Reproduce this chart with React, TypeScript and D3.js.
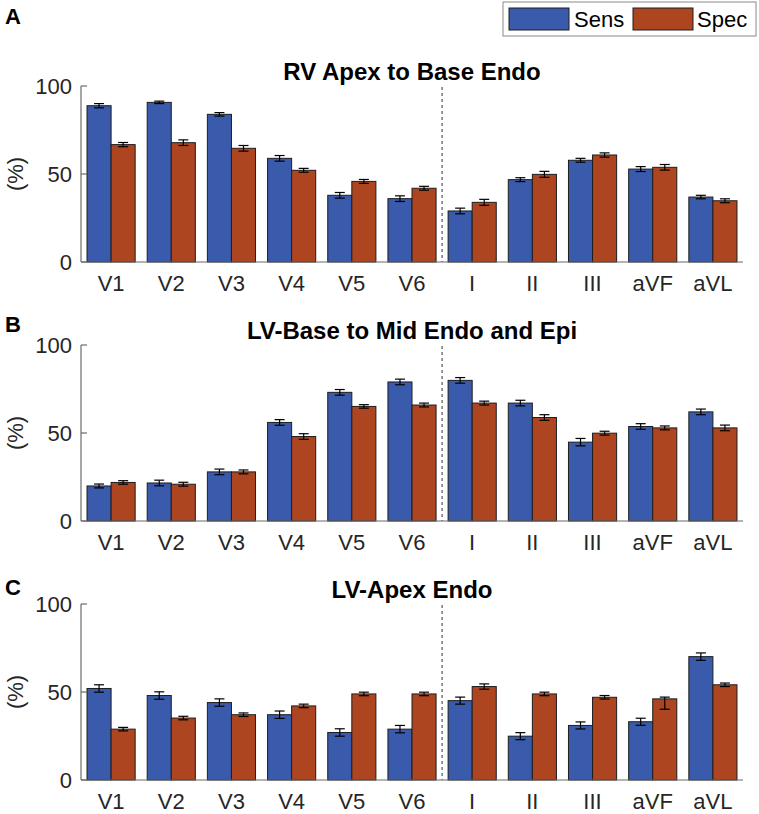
import React from "react";
import * as d3 from "d3";

const leads = ["V1", "V2", "V3", "V4", "V5", "V6", "I", "II", "III", "aVF", "aVL"];
const seriesNames = ["Sens", "Spec"];
const yTickValues = [0, 50, 100];

const titles = ["RV Apex to Base Endo", "LV-Base to Mid Endo and Epi", "LV-Apex Endo"];
const panelLetters = ["A", "B", "C"];

// panel A
const sensA = [88.8, 90.7, 83.9, 58.9, 37.9, 36.0, 29.0, 46.8, 57.8, 52.8, 36.9];
const specA = [66.7, 67.8, 64.6, 52.1, 45.8, 41.9, 33.9, 49.8, 60.8, 53.8, 34.8];
const sensErrA = [1.2, 0.7, 1.0, 1.6, 1.6, 1.6, 1.6, 1.1, 1.1, 1.4, 1.0];
const specErrA = [1.2, 1.6, 1.6, 1.1, 1.1, 1.1, 1.7, 1.7, 1.2, 1.6, 1.1];

// panel B
const sensB = [19.9, 21.6, 27.9, 56.0, 73.1, 79.0, 79.9, 67.0, 44.8, 53.7, 62.0];
const specB = [21.9, 20.9, 27.9, 48.0, 65.1, 65.9, 67.0, 58.8, 49.9, 52.9, 52.9];
const sensErrB = [1.1, 1.6, 1.6, 1.6, 1.6, 1.6, 1.6, 1.6, 2.1, 1.6, 1.6];
const specErrB = [1.0, 1.1, 1.1, 1.6, 1.0, 1.1, 1.1, 1.6, 1.1, 1.1, 1.6];

// panel C
const sensC = [52.0, 48.0, 44.0, 37.1, 27.0, 28.9, 45.1, 24.9, 31.0, 33.1, 70.1];
const specC = [28.9, 35.2, 37.1, 42.1, 48.9, 48.9, 53.1, 48.9, 47.0, 46.1, 54.1];
const sensErrC = [2.1, 2.1, 2.1, 2.1, 2.1, 2.1, 2.0, 2.0, 2.0, 2.0, 2.1];
// [lower, upper] where the bar is asymmetric
const specErrC: (number | [number, number])[] = [1.0, 1.0, 1.0, 1.0, 1.0, 1.0, 1.5, 1.0, 1.0, [5.9, 1.0], 1.0];

const panels = [
  { sens: sensA, spec: specA, sensErr: sensErrA, specErr: specErrA },
  { sens: sensB, spec: specB, sensErr: sensErrB, specErr: specErrB },
  { sens: sensC, spec: specC, sensErr: sensErrC, specErr: specErrC },
];

const colors = ["#3a5aab", "#ad4520"];
const font = "'Liberation Sans', Arial, Helvetica, sans-serif";

const width = 759;
const height = 814;
const margin = { left: 81, right: 16 };
const panelTops = [86, 345, 604];
const panelHeight = 176;

function Panel({ idx }: { idx: number }) {
  const p = panels[idx];
  const top = panelTops[idx];
  const bottom = top + panelHeight;

  const x = d3
    .scaleBand<string>()
    .domain(leads)
    .range([margin.left, width - margin.right])
    .padding(0);

  const inner = d3
    .scaleBand<string>()
    .domain(seriesNames)
    .range([x.bandwidth() * 0.1, x.bandwidth() * 0.9]);

  const y = d3.scaleLinear().domain([0, 100]).range([bottom, top]);

  const vals = [p.sens, p.spec];
  const errs = [p.sensErr, p.specErr];
  const sepX = x("I") as number;

  return (
    <g>
      {/* panel letter + title */}
      <text x={5} y={[24, 332, 595][idx]} fontFamily={font} fontWeight="bold" fontSize={22} fill="#000">
        {panelLetters[idx]}
      </text>
      <text
        x={(margin.left + width - margin.right) / 2}
        y={top - 6}
        textAnchor="middle"
        fontFamily={font}
        fontWeight="bold"
        fontSize={24}
        fill="#000"
      >
        {titles[idx]}
      </text>

      {/* bars */}
      {leads.map((lead, i) => (
        <g key={lead} transform={`translate(${x(lead)},0)`}>
          {seriesNames.map((s, k) => {
            const v = vals[k][i];
            return (
              <rect
                key={s}
                x={inner(s)}
                y={y(v)}
                width={inner.bandwidth()}
                height={bottom - y(v)}
                fill={colors[k]}
                stroke="#1e1e1e"
                strokeWidth={1}
              />
            );
          })}
        </g>
      ))}

      {/* error bars */}
      {leads.map((lead, i) => (
        <g key={lead + "err"} transform={`translate(${x(lead)},0)`}>
          {seriesNames.map((s, k) => {
            const v = vals[k][i];
            const e = errs[k][i];
            const lo = Array.isArray(e) ? e[0] : e;
            const hi = Array.isArray(e) ? e[1] : e;
            const cx = (inner(s) as number) + inner.bandwidth() / 2;
            return (
              <g key={s} stroke="#000" strokeWidth={1.2}>
                <line x1={cx} x2={cx} y1={y(v - lo)} y2={y(v + hi)} />
                <line x1={cx - 5} x2={cx + 5} y1={y(v - lo)} y2={y(v - lo)} />
                <line x1={cx - 5} x2={cx + 5} y1={y(v + hi)} y2={y(v + hi)} />
              </g>
            );
          })}
        </g>
      ))}

      {/* separator */}
      <line x1={sepX} x2={sepX} y1={top + 1} y2={bottom} stroke="#333" strokeWidth={1} strokeDasharray="3,3" />

      {/* axes */}
      <line x1={margin.left} x2={margin.left} y1={top} y2={bottom} stroke="#6b6b6b" strokeWidth={1.2} />
      <line x1={margin.left} x2={width - margin.right} y1={bottom} y2={bottom} stroke="#6b6b6b" strokeWidth={1.2} />
      {yTickValues.map((t) => (
        <g key={t}>
          <line x1={margin.left} x2={margin.left + 6} y1={y(t)} y2={y(t)} stroke="#6b6b6b" strokeWidth={1.2} />
          <text
            x={margin.left - 9}
            y={y(t)}
            dy="0.36em"
            textAnchor="end"
            fontFamily={font}
            fontSize={22}
            fill="#262626"
          >
            {t}
          </text>
        </g>
      ))}
      {leads.map((lead) => (
        <text
          key={lead + "lbl"}
          x={(x(lead) as number) + x.bandwidth() / 2}
          y={bottom + 29}
          textAnchor="middle"
          fontFamily={font}
          fontSize={22}
          fill="#262626"
        >
          {lead}
        </text>
      ))}
      <text
        transform={`translate(23,${(top + bottom) / 2}) rotate(-90)`}
        textAnchor="middle"
        fontFamily={font}
        fontSize={22}
        fill="#262626"
      >
        (%)
      </text>
    </g>
  );
}

function Legend() {
  const items = [
    { name: seriesNames[0], sx: 509, tx: 574 },
    { name: seriesNames[1], sx: 633, tx: 697 },
  ];
  return (
    <g>
      <rect x={503} y={2} width={253} height={34} fill="#fff" stroke="#8a8a8a" strokeWidth={1} />
      {items.map((it, k) => (
        <g key={it.name}>
          <rect x={it.sx} y={8} width={60} height={22} fill={colors[k]} stroke="#1e1e1e" strokeWidth={1} />
          <text x={it.tx} y={27} fontFamily={font} fontSize={22} fill="#000">
            {it.name}
          </text>
        </g>
      ))}
    </g>
  );
}

export default function App() {
  return (
    <svg
      width={width}
      height={height}
      style={{ position: "absolute", left: 0, top: 0, background: "#fff" }}
    >
      <rect width={width} height={height} fill="#fff" />
      {panels.map((_, i) => (
        <Panel key={i} idx={i} />
      ))}
      <Legend />
    </svg>
  );
}
